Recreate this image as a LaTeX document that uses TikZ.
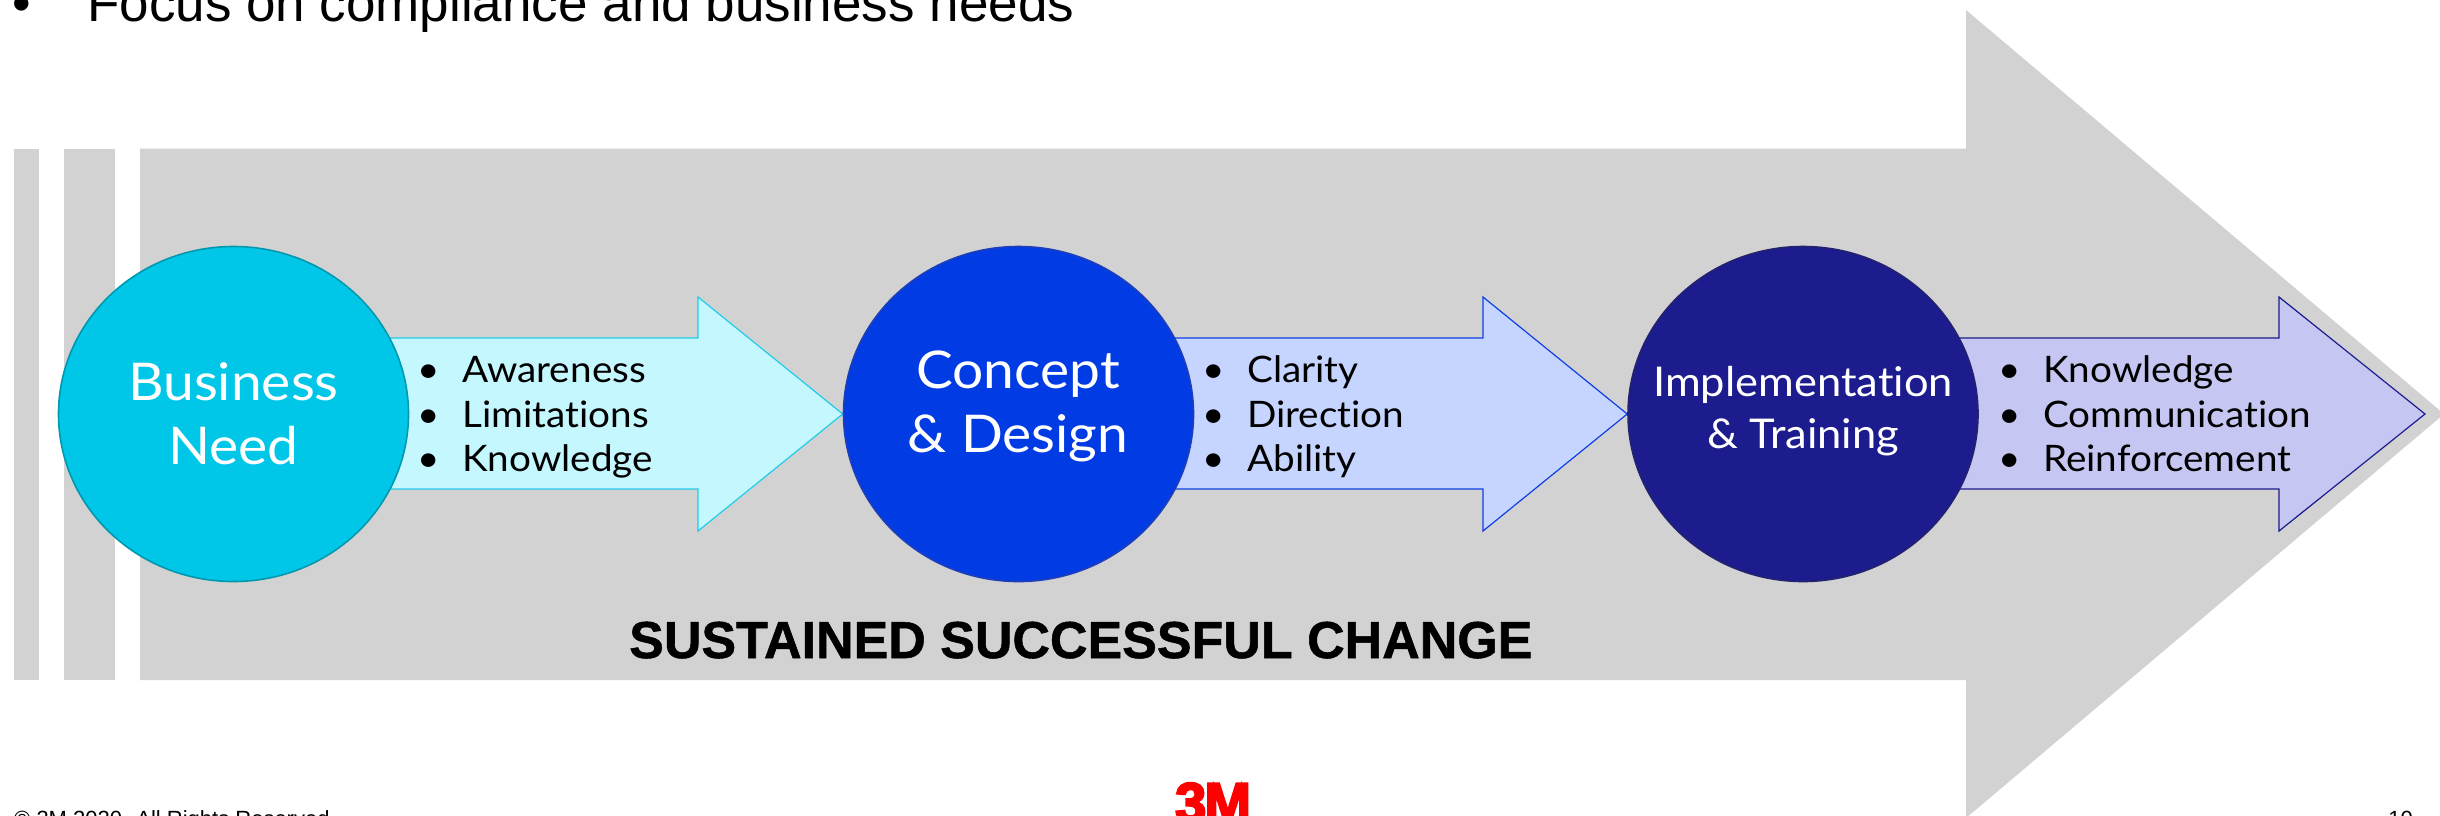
\documentclass[tikz,border=0pt]{standalone}
\usepackage{fontspec}
\setmainfont[Ligatures=NoCommon,FakeStretch=1.06]{Lato}
\newfontfamily\arialfont{Liberation Sans}
\newfontfamily\claimfont[FakeBold=1]{Liberation Sans Bold}
\newfontfamily\logofont[FakeBold=4]{Liberation Sans Bold}
\usetikzlibrary{shapes.geometric,backgrounds}
\definecolor{biggray}{HTML}{D2D2D2}
\definecolor{cyanfill}{HTML}{00C7E8}
\definecolor{cyanline}{HTML}{0098AE}
\definecolor{cyanlight}{HTML}{C5F7FF}
\definecolor{cyanedge}{HTML}{22CCE8}
\definecolor{bluefill}{HTML}{003BE3}
\definecolor{blueline}{HTML}{1F3FB8}
\definecolor{bluelight}{HTML}{C6D5FF}
\definecolor{blueedge}{HTML}{0F3FE0}
\definecolor{navyfill}{HTML}{1C1C8E}
\definecolor{navyline}{HTML}{22226F}
\definecolor{navylight}{HTML}{C6C6F2}
\definecolor{navyedge}{HTML}{1C1C8E}
\definecolor{logored}{HTML}{FF0000}
\tikzset{
  stage/.style={ellipse,inner sep=0pt,minimum width=350pt,minimum height=335pt,line width=1.6pt},
  stagelabel/.style={text=white,align=center,inner sep=0pt,anchor=base},
  flow/.style={line width=1.2pt,line join=miter},
  bullets/.style={align=left,inner sep=0pt,anchor=base west,font=\fontsize{36.5}{44.5}\selectfont},
}
\newcommand{\bl}{\makebox[45pt][l]{•}}
\newcommand{\flowarrow}[5]{% from node, tip, neck x, fill, edge
  \path[flow,fill=#4,draw=#5] (#1 |- 0,338) -- (#3,338) -- (#3,297) -- (#2) -- (#3,531) -- (#3,489) -- (#1 |- 0,489);
}
\begin{document}
\begin{tikzpicture}[x=1pt,y=-1pt]
\useasboundingbox (0,0) rectangle (2440,815);
\clip (0,0) rectangle (2440,815);

\node[stage,fill=cyanfill,draw=cyanline] (c1) at (233.5,414) {};
\node[stage,fill=bluefill,draw=blueline] (c2) at (1018.5,414) {};
\node[stage,fill=navyfill,draw=navyline] (c3) at (1803,414) {};

\begin{pgfonlayer}{background}
  \fill[biggray] (14,148.5) rectangle (39,680);
  \fill[biggray] (64,148.5) rectangle (115,680);
  \fill[biggray] (140,148.5) -- (1966,148.5) -- (1966,10) -- (2444,414) -- (1966,818) -- (1966,680) -- (140,680) -- cycle;
  \flowarrow{c1.center}{c2.west}{698}{cyanlight}{cyanedge}
  \flowarrow{c2.center}{c3.west}{1483}{bluelight}{blueedge}
  \coordinate (tip3) at (2425,414);
  \flowarrow{c3.center}{tip3}{2279}{navylight}{navyedge}
\end{pgfonlayer}

\node[stagelabel,font=\fontsize{52}{64}\selectfont] (t1) at (233.5,464) {Business\\Need};
\node[stagelabel,font=\fontsize{52}{64}\selectfont] (t2) at (1018,452) {Concept\\\& Design};
\node[stagelabel,font=\fontsize{41}{52}\selectfont] (t3) at (1803,448.5) {Implementation\\\& Training};

\node[bullets] (l1) at (417,471.5) {\bl Awareness\\\bl Limitations\\\bl Knowledge};
\node[bullets] (l2) at (1202,471.5) {\bl Clarity\\\bl Direction\\\bl Ability};
\node[bullets] (l3) at (1998,471.5) {\bl Knowledge\\\bl Communication\\\bl Reinforcement};

\node[inner sep=0pt,anchor=base west,font=\claimfont\fontsize{52}{60}\selectfont] (claim) at (629,658) {SUSTAINED SUCCESSFUL CHANGE};

\node[inner sep=0pt,anchor=base west,font=\arialfont\fontsize{53}{60}\selectfont] (topbullet) at (12,21) {•};
\node[inner sep=0pt,anchor=base west,font=\arialfont\fontsize{53}{60}\selectfont] (toptext) at (87,21) {Focus on compliance and business needs};
\node[inner sep=0pt,anchor=base west,font=\arialfont\fontsize{22}{26}\selectfont] (foot) at (14,826) {© 3M 2020.  All Rights Reserved.};
\node[inner sep=0pt,anchor=base east,font=\arialfont\fontsize{22}{26}\selectfont] (page) at (2413,826) {10};
\node[inner sep=0pt,anchor=base west,text=logored,font=\logofont\fontsize{56}{60}\selectfont] (logo) at (1175,822) {3\kern-2pt M};
\end{tikzpicture}
\end{document}
